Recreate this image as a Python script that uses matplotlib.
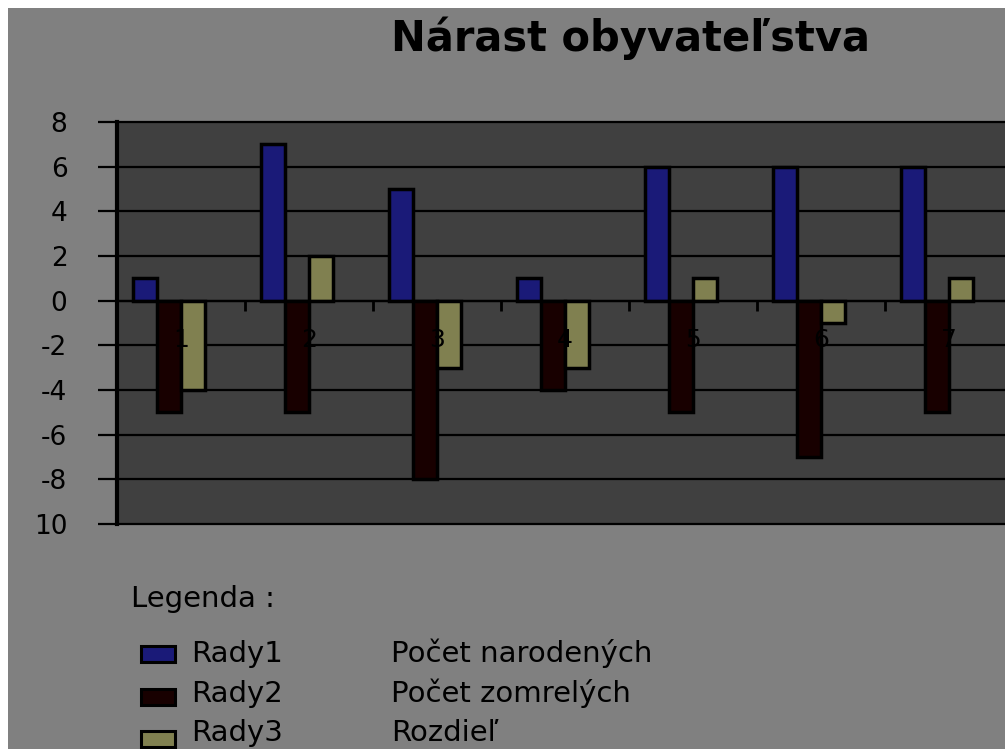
import numpy as np
import matplotlib
matplotlib.use("Agg")
import matplotlib.pyplot as plt
from matplotlib.patches import Rectangle

# data
categories = [1, 2, 3, 4, 5, 6, 7]
rady1 = [1, 7, 5, 1, 6, 6, 6]          # Počet narodených
rady2 = [-5, -5, -8, -4, -5, -7, -5]   # Počet zomrelých
rady3 = [-4, 2, -3, -3, 1, -1, 1]      # Rozdiel
series_names = ["Rady1", "Rady2", "Rady3"]
series_desc = ["Počet narodených", "Počet zomrelých", "Rozdieľ"]
yticks = [-10, -8, -6, -4, -2, 0, 2, 4, 6, 8]
ytick_labels = ["10", "-8", "-6", "-4", "-2", "0", "2", "4", "6", "8"]

colors = ["#1a1a78", "#180000", "#808050"]
fig_bg = "#808080"
plot_bg = "#404040"

plt.rcParams["font.family"] = ["DejaVu Sans"]

fig = plt.figure(figsize=(10.05, 7.49), dpi=100, facecolor="white")
# gray panel (thin white margin on top/left)
fig.patches.append(Rectangle((8 / 1005, 0), 1, 1 - 8 / 749, transform=fig.transFigure,
                             facecolor=fig_bg, edgecolor="none", zorder=-5))

ax = fig.add_axes([117 / 1005, 1 - 524 / 749, 896 / 1005, 402 / 749])
ax.set_zorder(1)
ax.set_facecolor(plot_bg)

x = np.array(categories, dtype=float)
width = 0.1875
offsets = [-0.281, -0.094, 0.094]
for vals, off, col in zip([rady1, rady2, rady3], offsets, colors):
    ax.bar(x + off, vals, width=width, color=col, edgecolor="black", linewidth=2.5, zorder=1)

# horizontal gridlines behind the bars
for yv in yticks:
    ax.axhline(yv, color="black", linewidth=1.6, zorder=0.5, clip_on=False)

ax.set_xlim(0.5, 7.5)
ax.set_ylim(-10, 8)

for s in ["top", "right"]:
    ax.spines[s].set_visible(False)
ax.spines["left"].set_linewidth(3)
ax.spines["bottom"].set_position(("data", 0))
ax.spines["bottom"].set_linewidth(1.6)

ax.set_yticks(yticks)
ax.set_yticklabels(ytick_labels)
ax.tick_params(axis="y", length=13.7, width=1.6, pad=22, labelsize=19, colors="black")

ax.set_xticks(categories)
ax.set_xticklabels([str(c) for c in categories])
ax.set_xticks(x[:-1] + 0.5, minor=True)
ax.tick_params(axis="x", which="major", length=0, pad=20, labelsize=18, labelcolor="black")
ax.tick_params(axis="x", which="minor", length=7, width=2, direction="out", color="black")

fig.text(630 / 1005, 1 - 51 / 749, "Nárast obyvateľstva", ha="center", va="baseline",
         fontsize=30, fontweight="bold", color="black")

# legend block drawn as text
fig.text(131 / 1005, 1 - 607 / 749, "Legenda :", ha="left", va="baseline", fontsize=21, color="black")
row_y = [654, 697, 739]
base_y = [662, 702, 741]
for name, desc, col, ry, by in zip(series_names, series_desc, colors, row_y, base_y):
    fig.patches.append(Rectangle((141 / 1005, 1 - (ry + 8) / 749), 34 / 1005, 16 / 749,
                                 transform=fig.transFigure, facecolor=col,
                                 edgecolor="black", linewidth=2.2, zorder=2))
    fig.text(191 / 1005, 1 - by / 749, name, ha="left", va="baseline", fontsize=21, color="black")
    fig.text(391 / 1005, 1 - by / 749, desc, ha="left", va="baseline", fontsize=21, color="black")

fig.savefig("out.png", dpi=100, facecolor=fig.get_facecolor())
